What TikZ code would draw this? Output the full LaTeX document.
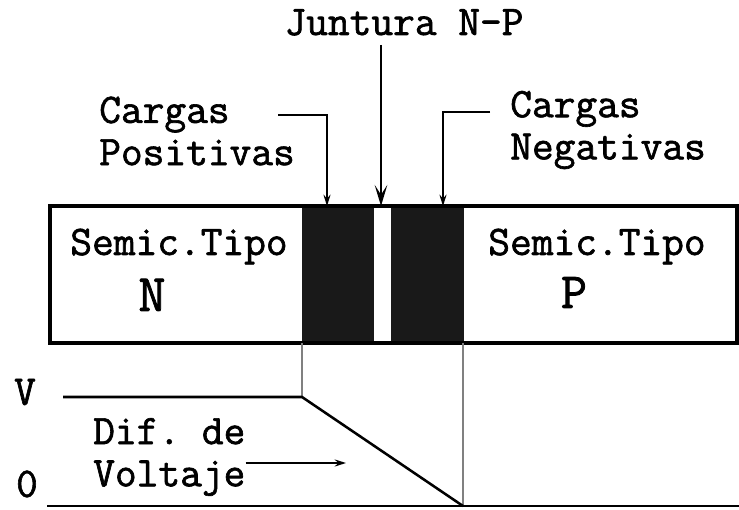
\documentclass[tikz,border=0pt]{standalone}
\usepackage{fontspec}
\setmonofont{Latin Modern Mono}[FakeBold=1.5]
\usetikzlibrary{arrows.meta}

\begin{document}
\begin{tikzpicture}[x=0.025cm, y=-0.025cm,
    lead/.style={line width=1.4pt, -{Stealth[length=8pt,width=5pt]}},
    bigtip/.style={line width=1.4pt, -{Stealth[length=15pt,width=9pt,inset=7pt]}},
    curve/.style={line width=1.8pt},
    guide/.style={draw=gray, line width=0.8pt}]
\useasboundingbox (0,0) rectangle (739,510);
% semiconductor bar
\fill[black!90] (302,206) rectangle (374,343);
\fill[black!90] (391,206) rectangle (464,343);
\draw[line width=2.5pt] (50,206) rectangle (737,343);
% points on the bar
\coordinate (pos) at (327,206);
\coordinate (jun) at (381,206);
\coordinate (neg) at (443,206);
\coordinate (pb) at (302,343);
\coordinate (nb) at (463,343);
\coordinate (posstart) at (278,115);
\coordinate (negstart) at (490,112);
\coordinate (juntop) at (381,45);
% voltage curve
\coordinate (vl) at (63,397);
\coordinate (vk) at (302,397);
\coordinate (zk) at (463,506);
\coordinate (zl) at (47,506);
\coordinate (zr) at (739,506);
\coordinate (difend) at (346,463);
\begin{scope}[every node/.style={font=\ttfamily\fontsize{30}{30}\selectfont, inner sep=0pt}]
\node[anchor=base] (junt) at (404,35) {Juntura N-P};
\node[align=left, anchor=west] (cpos) at (99,131) {Cargas\\Positivas};
\node[align=left, anchor=west] (cneg) at (510,130) {Cargas\\Negativas};
\node[anchor=base] (semn) at (179,255) {Semic.Tipo};
\node[anchor=base] (semp) at (597,255) {Semic.Tipo};
\node[anchor=base, scale=1.25] (tipon) at (152,311) {N};
\node[anchor=base, scale=1.2] (tipop) at (574,308) {P};
\node (vlab) at (25,392) {V};
\node (zlab) at (27,484) {0};
\node[align=left, anchor=west] (dif) at (93,457) {Dif. de\\Voltaje};
\end{scope}
% leaders
\draw[lead] (posstart) -| (pos);
\draw[lead] (negstart) -| (neg);
\draw[bigtip] (juntop) -- (jun);
\draw[lead] (dif.east |- difend) -- (difend);
% potential
\draw[guide] (pb) -- (vk);
\draw[guide] (nb) -- (zk);
\draw[curve] (vl) -- (vk) -- (zk);
\draw[curve] (zl) -- (zr);
\end{tikzpicture}
\end{document}
